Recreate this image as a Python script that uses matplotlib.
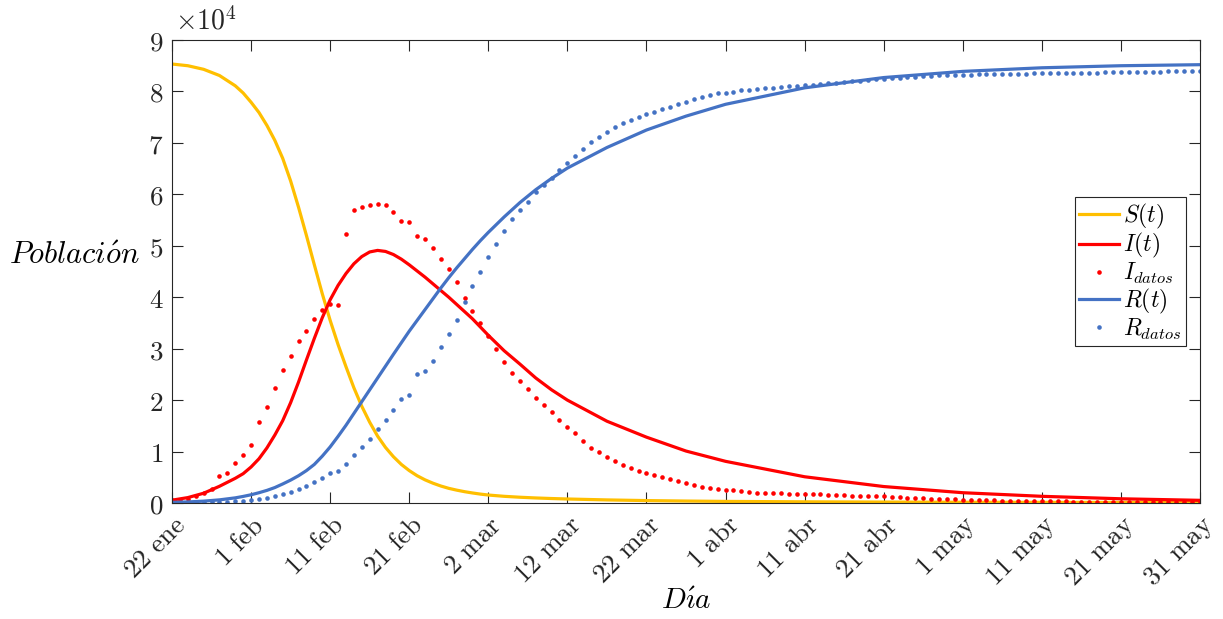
import numpy as np
import matplotlib
matplotlib.use('Agg')
import matplotlib.pyplot as plt

plt.rcParams['mathtext.fontset'] = 'cm'
plt.rcParams['font.family'] = ['DejaVu Serif']

# Días desde el 22 de enero
dias = np.arange(131)
etiquetas_x = ['22 ene', '1 feb', '11 feb', '21 feb', '2 mar', '12 mar', '22 mar',
               '1 abr', '11 abr', '21 abr', '1 may', '11 may', '21 may', '31 may']
etiquetas_y = ['0', '1', '2', '3', '4', '5', '6', '7', '8', '9']

# Datos (infectados activos y recuperados + fallecidos)
I_datos = [503, 595, 858, 1325, 1970, 2737, 5277, 5834, 7835, 9375,
           11357, 15806, 18677, 22374, 25763, 28478, 31395, 33415, 35707, 37426,
           38640, 38564, 52314, 57004, 57453, 57995, 58111, 58008, 56549, 54839,
           54618, 51873, 51409, 49658, 47441, 45398, 42958, 39849, 37242, 34944,
           32414, 29912, 27450, 25284, 23760, 22222, 20406, 19006, 17645, 16119,
           14859, 13569, 12124, 10783, 9906, 9030, 8106, 7372, 6731, 6189,
           5770, 5380, 5000, 4610, 4280, 3890, 3560, 3170, 2920, 2720,
           2530, 2460, 2400, 2140, 2010, 2010, 1945, 1880, 1815, 1750,
           1750, 1815, 1690, 1620, 1560, 1490, 1430, 1430, 1360, 1300,
           1300, 1170, 1100, 1040, 970, 910, 840, 780, 710, 710,
           650, 600, 570, 540, 500, 470, 440, 420, 400, 380,
           360, 340, 320, 300, 290, 270, 250, 240, 230, 220,
           200, 190, 180, 170, 160, 150, 140, 130, 125, 120, 115]

R_datos = [45, 48, 62, 81, 105, 140, 232, 253, 306, 427,
           534, 824, 1039, 1333, 1677, 2109, 2715, 3399, 4122, 4928,
           5746, 6195, 7581, 9354, 10960, 12518, 14323, 16203, 18070, 20238,
           20932, 25128, 25613, 27583, 30313, 32768, 35642, 39079, 42114, 44988,
           47722, 50349, 52936, 55253, 56930, 58548, 60417, 61854, 63242, 64802,
           66073, 67376, 68853, 70220, 71127, 72028, 72996, 73784, 74519, 75116,
           75600, 76100, 76550, 77050, 77500, 78000, 78480, 78870, 79260, 79650,
           79780, 79950, 80210, 80370, 80500, 80630, 80720, 80900, 80980, 81050,
           81200, 81320, 81450, 81580, 81700, 81820, 81950, 82080, 82210, 82340,
           82470, 82600, 82700, 82790, 82860, 82960, 83030, 83100, 83150, 83200,
           83250, 83280, 83300, 83330, 83360, 83380, 83410, 83440, 83460, 83490,
           83510, 83540, 83560, 83590, 83610, 83640, 83660, 83680, 83700, 83720,
           83740, 83770, 83790, 83820, 83840, 83860, 83890, 83920, 83960, 84000, 84030]

# Modelo SIR ajustado
t_modelo = [0, 2, 4, 6, 8, 9, 10, 11, 12, 13, 14, 15, 16, 17, 18, 19, 20, 21, 22, 23,
            24, 25, 26, 27, 28, 29, 30, 31, 32, 33, 34, 35, 36, 37, 38, 39, 40,
            42, 44, 46, 48, 50, 55, 60, 65, 70, 80, 90, 100, 110, 120, 130]
S_modelo = [85330, 85000, 84300, 83100, 81100, 79700, 77900, 75900, 73400, 70500,
            67000, 62600, 57500, 52000, 46300, 40700, 35500, 30800, 26500, 22400,
            18800, 15700, 13000, 10800, 9000, 7500, 6300, 5300, 4500, 3850,
            3300, 2850, 2500, 2200, 1950, 1730, 1550,
            1300, 1120, 980, 870, 780, 600, 470, 380, 310, 230, 180, 150, 130, 115, 100]
I_modelo = [550, 1050, 1900, 3250, 4800, 5700, 7000, 8600, 10700, 13200,
            16000, 19500, 23500, 27800, 32000, 36000, 39500, 42300, 44600, 46500,
            47900, 48800, 49100, 48900, 48300, 47400, 46300, 45100, 43900, 42600,
            41300, 40000, 38600, 37200, 35800, 34200, 32600,
            29600, 27000, 24300, 22000, 20000, 15900, 12800, 10100, 8100,
            5100, 3200, 2000, 1300, 820, 520]
R_modelo = [130, 210, 360, 610, 1000, 1280, 1600, 2000, 2450, 3000,
            3700, 4450, 5300, 6300, 7500, 9100, 10900, 12950, 15100, 17400,
            19700, 22000, 24300, 26600, 28900, 31150, 33400, 35500, 37600, 39700,
            41800, 43800, 45700, 47500, 49300, 51000, 52600,
            55600, 58400, 60900, 63100, 65100, 69100, 72500, 75200, 77500,
            80700, 82700, 83900, 84600, 85000, 85200]

amarillo = '#FFBF00'
rojo = '#FF0000'
azul = '#4472C4'
gris = '#262626'

fig = plt.figure(figsize=(12.23, 6.19), dpi=100)
ax = fig.add_axes([172 / 1223, 1 - 503 / 619, 1028 / 1223, 463 / 619])

ax.plot(t_modelo, S_modelo, color=amarillo, lw=2.3, label=r'$S(t)$')
ax.plot(t_modelo, I_modelo, color=rojo, lw=2.3, label=r'$I(t)$')
ax.plot(dias, I_datos, 'o', color=rojo, ms=3.3, mew=0, label=r'$I_{datos}$')
ax.plot(t_modelo, R_modelo, color=azul, lw=2.3, label=r'$R(t)$')
ax.plot(dias, R_datos, 'o', color=azul, ms=3.3, mew=0, label=r'$R_{datos}$')

ax.set_xlim(0, 130)
ax.set_ylim(0, 90000)
ax.set_xticks(np.arange(0, 131, 10))
ax.set_xticklabels([r'$\mathrm{' + e.replace(' ', r'\ ') + '}$' for e in etiquetas_x],
                   rotation=45, ha='right', va='top', rotation_mode='anchor')
ax.set_yticks(np.arange(0, 90001, 10000))
ax.set_yticklabels(['$' + e + '$' for e in etiquetas_y])
ax.tick_params(direction='in', length=8, width=0.8, top=True, right=True,
               labelsize=19.5, colors=gris, pad=6)
for sp in ax.spines.values():
    sp.set_color(gris)
    sp.set_linewidth(0.8)

ax.text(0.003, 1.01, r'$\times10^{4}$', transform=ax.transAxes, ha='left', va='bottom',
        fontsize=20, color=gris)

ax.set_ylabel(r'$Poblaci\acute{o}n$', rotation=0, fontsize=22, ha='right', va='center')
ax.yaxis.set_label_coords(-0.031, 0.535)
ax.set_xlabel(r'$D\acute{\imath}a$', fontsize=21, va='center')
ax.xaxis.set_label_coords(0.5, -0.212)

leg = ax.legend(loc='center right', fontsize=17, frameon=True, fancybox=False,
                edgecolor=gris, framealpha=1, handlelength=1.7, handletextpad=0.15,
                borderpad=0.2, labelspacing=0.03, borderaxespad=0.6)
leg.get_frame().set_linewidth(0.8)

fig.savefig('out.png', dpi=100)
